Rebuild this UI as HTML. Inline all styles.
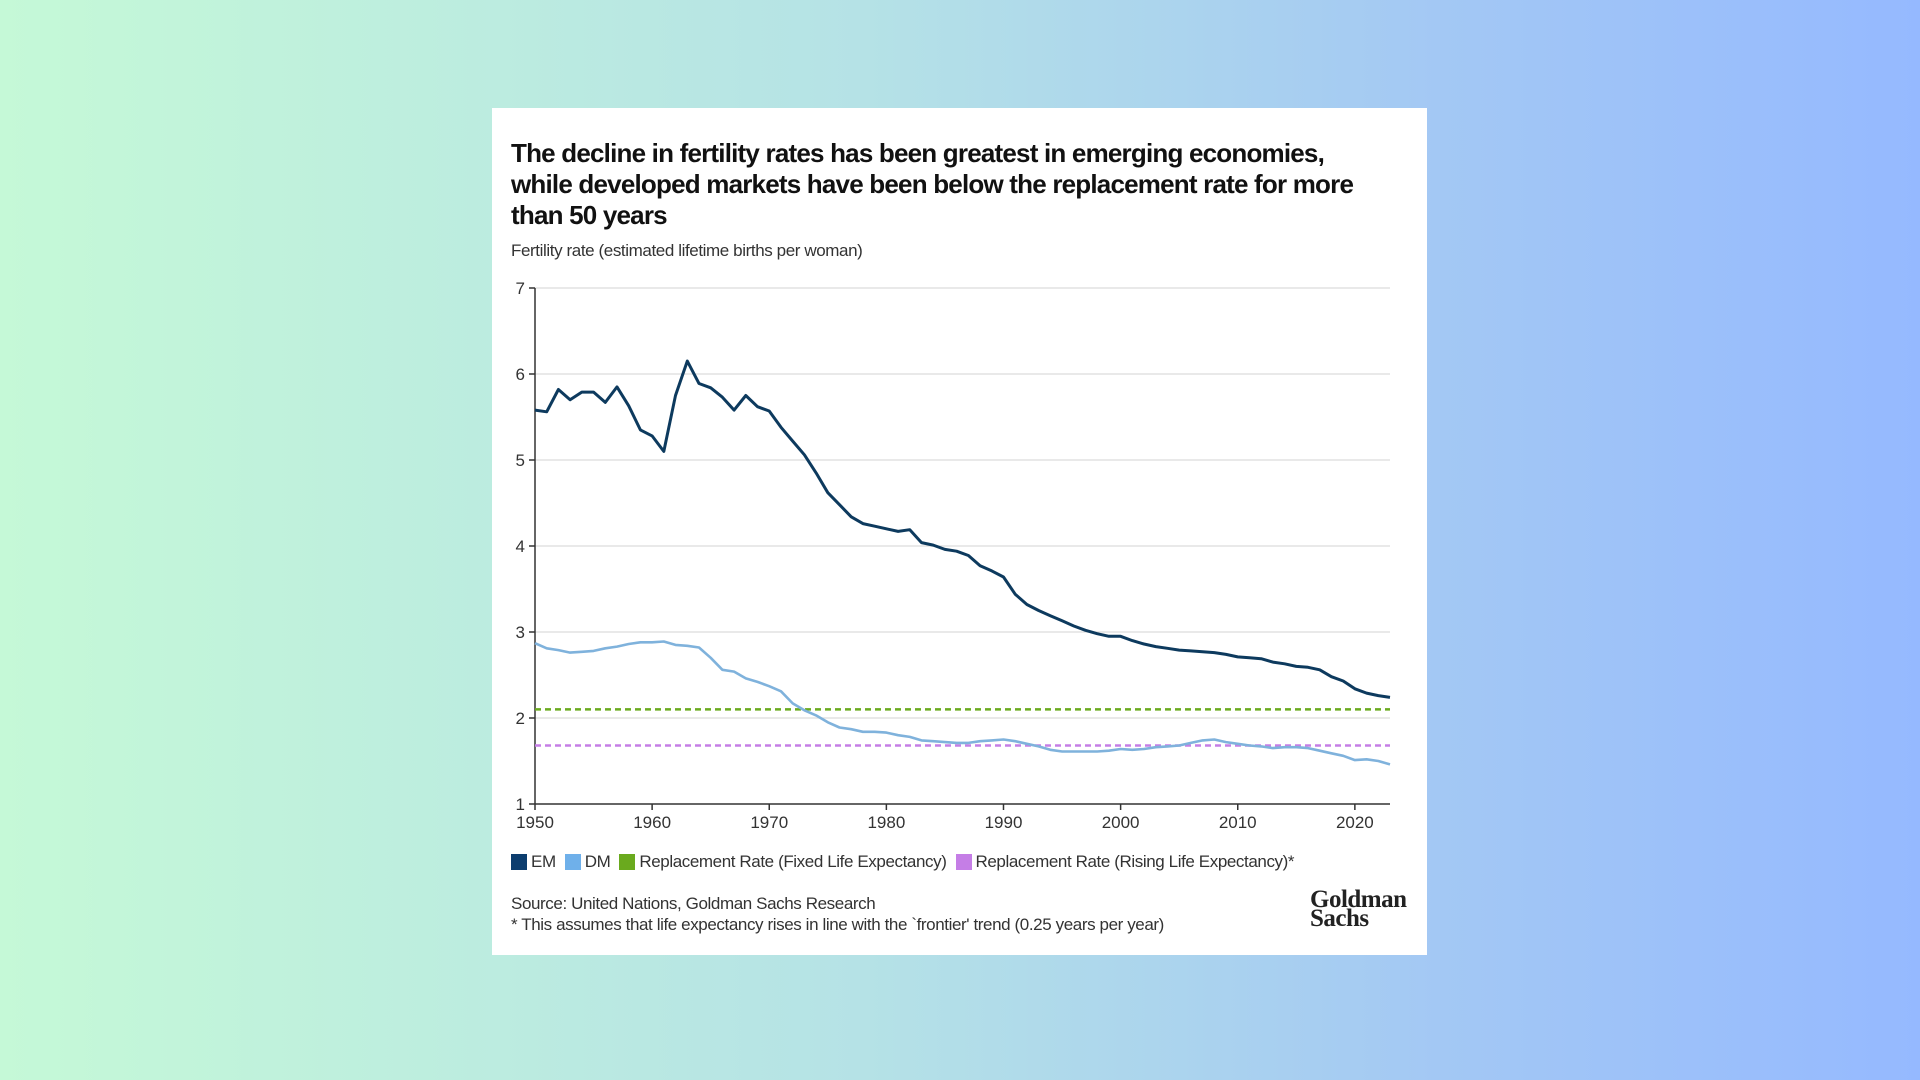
<!DOCTYPE html>
<html><head><meta charset="utf-8"><style>
body{margin:0;width:1920px;height:1080px;overflow:hidden;background:linear-gradient(90deg,#c5f9d7 0%,#b5e2e6 45%,#a3c8f4 75%,#95b9ff 100%);font-family:"Liberation Sans Narrow","Liberation Sans",sans-serif;position:relative}
.card{position:absolute;left:492px;top:108px;width:935px;height:847px;background:#fff}
.t{position:absolute;left:19px;top:30px;font-size:26px;letter-spacing:-0.8px;font-weight:bold;line-height:31px;color:#111;width:862px}
.sub{position:absolute;left:19px;top:133px;font-size:17px;letter-spacing:-0.4px;color:#333}
.leg{position:absolute;left:19px;top:744px;font-size:17px;letter-spacing:-0.4px;color:#333;display:flex;align-items:center}
.sw{display:inline-block;width:16px;height:16px;margin-right:4px}
.leg span.l{margin-right:9px}
.src{position:absolute;left:19px;top:785px;font-size:17px;letter-spacing:-0.4px;color:#333;line-height:21px}
.gs{position:absolute;left:818px;top:782px;font-family:"Liberation Serif",serif;font-weight:bold;font-size:25px;line-height:19px;color:#222;letter-spacing:-0.5px}
svg{position:absolute;left:0;top:0}
</style></head><body>
<div class="card">
<div class="t">The decline in fertility rates has been greatest in emerging economies, while developed markets have been below the replacement rate for more than 50 years</div>
<div class="sub">Fertility rate (estimated lifetime births per woman)</div>
<svg id="chart" width="935" height="720"></svg>
<div class="leg">
<span class="sw" style="background:#0c3d6e"></span><span class="l">EM</span>
<span class="sw" style="background:#6fb0ea"></span><span class="l">DM</span>
<span class="sw" style="background:#6aaa1e"></span><span class="l">Replacement Rate (Fixed Life Expectancy)</span>
<span class="sw" style="background:#c57ee6"></span><span class="l">Replacement Rate (Rising Life Expectancy)*</span>
</div>
<div class="src">Source: United Nations, Goldman Sachs Research<br>* This assumes that life expectancy rises in line with the `frontier' trend (0.25 years per year)</div>
<div class="gs">Goldman<br>Sachs</div>
</div>
<script>
const years=[];for(let y=1950;y<=2023;y++)years.push(y);
const emValues=[5.58,5.56,5.82,5.70,5.79,5.79,5.67,5.85,5.63,5.35,5.28,5.10,5.75,6.15,5.89,5.84,5.73,5.58,5.75,5.62,5.57,5.38,5.22,5.06,4.85,4.62,4.48,4.34,4.26,4.23,4.20,4.17,4.19,4.04,4.01,3.96,3.94,3.89,3.77,3.71,3.64,3.44,3.32,3.25,3.19,3.13,3.07,3.02,2.98,2.95,2.95,2.90,2.86,2.83,2.81,2.79,2.78,2.77,2.76,2.74,2.71,2.70,2.69,2.65,2.63,2.60,2.59,2.56,2.48,2.43,2.34,2.29,2.26,2.24];
const dmValues=[2.87,2.81,2.79,2.76,2.77,2.78,2.81,2.83,2.86,2.88,2.88,2.89,2.85,2.84,2.82,2.70,2.56,2.54,2.46,2.42,2.37,2.31,2.17,2.09,2.03,1.95,1.89,1.87,1.84,1.84,1.83,1.80,1.78,1.74,1.73,1.72,1.71,1.71,1.73,1.74,1.75,1.73,1.70,1.67,1.63,1.61,1.61,1.61,1.61,1.62,1.64,1.63,1.64,1.66,1.67,1.68,1.71,1.74,1.75,1.72,1.70,1.68,1.67,1.65,1.66,1.66,1.65,1.62,1.59,1.56,1.51,1.52,1.50,1.46];
const replacementFixed=2.1;
const replacementRising=1.68;
const yTicks=[1,2,3,4,5,6,7];
const xTicks=[1950,1960,1970,1980,1990,2000,2010,2020];
const svg=document.getElementById('chart');const NS='http://www.w3.org/2000/svg';
const L=43,R=898,T=180,B=696;
const xs=y=>L+(y-1950)/(2023-1950)*(R-L);
const ys=v=>B-(v-1)/6*(B-T);
function mk(t,a){const e=document.createElementNS(NS,t);for(const k in a)e.setAttribute(k,a[k]);svg.appendChild(e);return e;}
yTicks.forEach(v=>{
 if(v>1){const g=mk('line',{x1:L,x2:R,y1:ys(v),y2:ys(v),stroke:'#dcdcdc','stroke-width':1.2});
 
 }
 const tk=mk('line',{x1:L-6,x2:L,y1:ys(v),y2:ys(v),stroke:'#333','stroke-width':1.5});
 
 
 const tx=mk('text',{x:L-10,y:ys(v)+6,'text-anchor':'end','font-size':17,fill:'#333','font-family':'Liberation Sans Narrow, Liberation Sans, sans-serif'});tx.textContent=v;
 
 
});
xTicks.forEach(y=>{
 const tk=mk('line',{x1:xs(y),x2:xs(y),y1:B,y2:B+6,stroke:'#333','stroke-width':1.5});
 
 
 const tx=mk('text',{x:xs(y),y:B+24,'text-anchor':'middle','font-size':17,fill:'#333','font-family':'Liberation Sans Narrow, Liberation Sans, sans-serif'});tx.textContent=y;
 
 
});
const ax=mk('line',{x1:L,x2:L,y1:T,y2:B,stroke:'#333','stroke-width':1.5});


const ax2=mk('line',{x1:L,x2:R,y1:B,y2:B,stroke:'#333','stroke-width':1.5});


const rf=mk('line',{x1:L,x2:R,y1:ys(replacementFixed),y2:ys(replacementFixed),stroke:'#6aaa1e','stroke-width':2.5,'stroke-dasharray':'6 4'});


const rr=mk('line',{x1:L,x2:R,y1:ys(replacementRising),y2:ys(replacementRising),stroke:'#c57ee6','stroke-width':2.5,'stroke-dasharray':'6 4'});


const pts=a=>a.map((v,i)=>xs(years[i]).toFixed(1)+','+ys(v).toFixed(1)).join(' ');
const dm=mk('polyline',{points:pts(dmValues),fill:'none',stroke:'#7fb2dc','stroke-width':2.6,'stroke-linejoin':'round'});


const em=mk('polyline',{points:pts(emValues),fill:'none',stroke:'#0d3a5e','stroke-width':3,'stroke-linejoin':'round'});


</script>
</body></html>
